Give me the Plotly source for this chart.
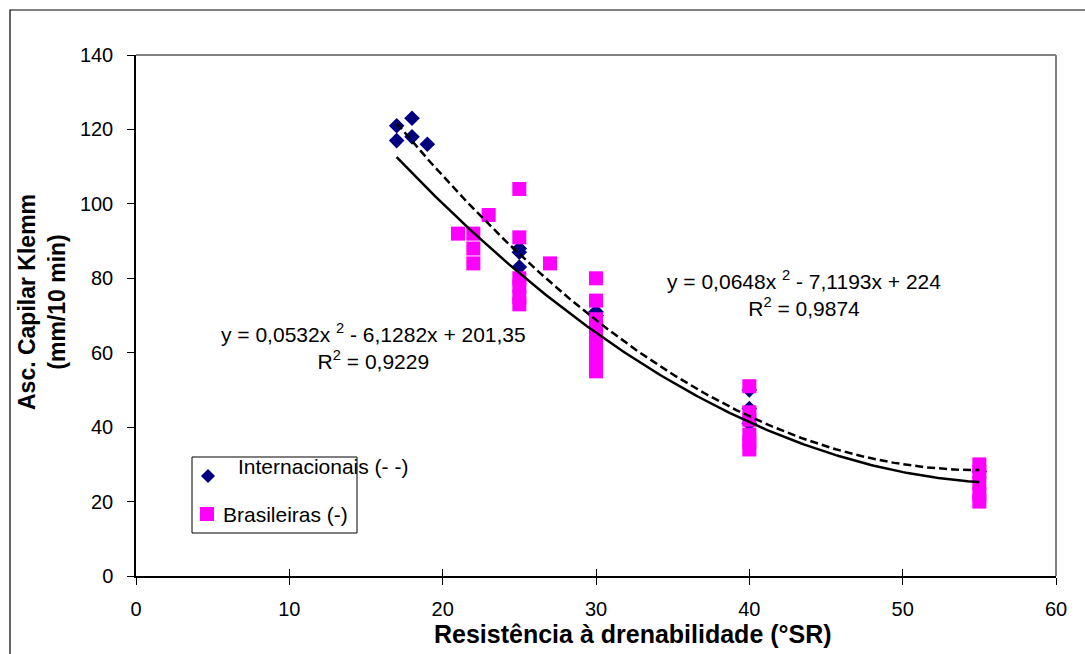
import numpy as np
import plotly.graph_objects as go

# ---------------- data ----------------
int_x = [17, 17, 18, 18, 19, 25, 25, 25, 30, 30, 40, 40, 40, 55]
int_y = [121, 117, 123, 118, 116, 88, 87, 83, 71, 70, 50, 45, 41, 28]

bra_x = [21, 22, 22, 22, 23, 25, 25, 25, 25, 25, 25, 27,
         30, 30, 30, 30, 30, 30, 30, 30,
         40, 40, 40, 40, 40, 40,
         55, 55, 55, 55, 55]
bra_y = [92, 92, 88, 84, 97, 104, 91, 80, 78, 75, 73, 84,
         80, 74, 69, 67, 64, 61, 58, 55,
         51, 44, 42, 38, 36, 34,
         30, 28, 25, 22, 20]

int_coef = [0.0648, -7.1193, 224]      # dashed trendline (Internacionais)
bra_coef = [0.0532, -6.1282, 201.35]   # solid trendline (Brasileiras)
trend_range = [17, 55]

x_ticks = [0, 10, 20, 30, 40, 50, 60]
y_ticks = [0, 20, 40, 60, 80, 100, 120, 140]

# ---------------- layout geometry ----------------
W, H = 1085, 654
L, R, T, B = 136, 1056, 55, 576
FONT = "Liberation Sans, Arial, sans-serif"


def px(xp):
    return (xp - L) / (R - L)


def py(yp):
    return (B - yp) / (B - T)


fig = go.Figure()

fig.add_trace(go.Scatter(x=int_x, y=int_y, mode="markers", name="Internacionais (- -)",
                         marker=dict(symbol="diamond", size=12, color="#000080"),
                         showlegend=False))
fig.add_trace(go.Scatter(x=bra_x, y=bra_y, mode="markers", name="Brasileiras (-)",
                         marker=dict(symbol="square", size=14, color="#FF00FF"),
                         showlegend=False))

xs = np.linspace(trend_range[0], trend_range[1], 200)
fig.add_trace(go.Scatter(x=xs, y=np.polyval(int_coef, xs), mode="lines",
                         line=dict(color="black", width=2.5, dash="8px,4px"),
                         showlegend=False, hoverinfo="skip"))
fig.add_trace(go.Scatter(x=xs, y=np.polyval(bra_coef, xs), mode="lines",
                         line=dict(color="black", width=2.5),
                         showlegend=False, hoverinfo="skip"))

# second x axis for inner half of crossing ticks
fig.add_trace(go.Scatter(x=[None], y=[None], xaxis="x2", yaxis="y", showlegend=False))

shapes = [
    # outer chart border
    dict(type="rect", xref="paper", yref="paper", x0=px(10), x1=px(1095), y0=py(664), y1=py(10),
         line=dict(color="black", width=1.2), fillcolor="rgba(0,0,0,0)", layer="below"),
    # plot area top & right grey border
    dict(type="line", xref="paper", yref="paper", x0=0, x1=1, y0=1, y1=1,
         line=dict(color="#808080", width=2)),
    dict(type="line", xref="paper", yref="paper", x0=1, x1=1, y0=0, y1=1,
         line=dict(color="#808080", width=2)),
    # legend box
    dict(type="rect", xref="paper", yref="paper", x0=px(192), x1=px(357), y0=py(533), y1=py(457),
         line=dict(color="black", width=1), fillcolor="white"),
]

# legend symbols
cx, cy, h = 208, 476, 7
shapes.append(dict(type="path", xref="paper", yref="paper",
                   path=f"M {px(cx-h)} {py(cy)} L {px(cx)} {py(cy-h)} L {px(cx+h)} {py(cy)} L {px(cx)} {py(cy+h)} Z",
                   fillcolor="#000080", line=dict(width=0)))
sx, sy, s = 207, 514, 7
shapes.append(dict(type="rect", xref="paper", yref="paper", x0=px(sx-s), x1=px(sx+s), y0=py(sy+s), y1=py(sy-s),
                   fillcolor="#FF00FF", line=dict(width=0)))

TXT = 21
annotations = [
    dict(text="Internacionais (- -)", x=px(236), y=py(466), xref="paper", yref="paper",
         xanchor="left", yanchor="middle", showarrow=False, font=dict(size=TXT, color="black", family=FONT)),
    dict(text="Brasileiras (-)", x=px(221), y=py(514), xref="paper", yref="paper",
         xanchor="left", yanchor="middle", showarrow=False, font=dict(size=TXT, color="black", family=FONT)),
    dict(text="y = 0,0532x <sup>2</sup> - 6,1282x + 201,35<br>R<sup>2</sup> = 0,9229",
         x=px(373), y=py(346), xref="paper", yref="paper", align="center",
         xanchor="center", yanchor="middle", showarrow=False, font=dict(size=TXT, color="black", family=FONT)),
    dict(text="y = 0,0648x <sup>2</sup> - 7,1193x + 224<br>R<sup>2</sup> = 0,9874",
         x=px(804), y=py(293), xref="paper", yref="paper", align="center",
         xanchor="center", yanchor="middle", showarrow=False, font=dict(size=TXT, color="black", family=FONT)),
    dict(text="<b>Asc. Capilar Klemm</b><br><b>(mm/10 min)</b>", x=px(42), y=py(302), xref="paper", yref="paper",
         textangle=-90, xanchor="center", yanchor="middle", showarrow=False, align="center",
         font=dict(size=23, color="black", family=FONT)),
    dict(text="<b>Resistência à drenabilidade (°SR)</b>", x=px(633), y=py(634), xref="paper", yref="paper",
         xanchor="center", yanchor="middle", showarrow=False,
         font=dict(size=25, color="black", family=FONT)),
]

fig.update_layout(
    width=W, height=H,
    margin=dict(l=L, r=W - R, t=T, b=H - B, pad=0),
    paper_bgcolor="white", plot_bgcolor="white",
    font=dict(family=FONT, size=20, color="black"),
    xaxis=dict(range=[0, 60], tickvals=x_ticks, ticks="outside", ticklen=7, tickwidth=1.2,
               tickcolor="black", showline=True, linecolor="black", linewidth=1.5,
               showgrid=False, zeroline=False, tickfont=dict(size=20), ticklabelstandoff=7),
    xaxis2=dict(range=[0, 60], overlaying="x", anchor="y", side="bottom", tickvals=x_ticks,
                ticks="inside", ticklen=7, tickwidth=1.2, tickcolor="black", showticklabels=False,
                showgrid=False, zeroline=False, showline=False),
    yaxis=dict(range=[0, 140], tickvals=y_ticks, ticks="outside", ticklen=7, tickwidth=1.2,
               tickcolor="black", showline=True, linecolor="black", linewidth=1.5,
               showgrid=False, zeroline=False, tickfont=dict(size=20), ticklabelstandoff=10),
    shapes=shapes,
    annotations=annotations,
    showlegend=False,
)

fig.write_html("out.html")
